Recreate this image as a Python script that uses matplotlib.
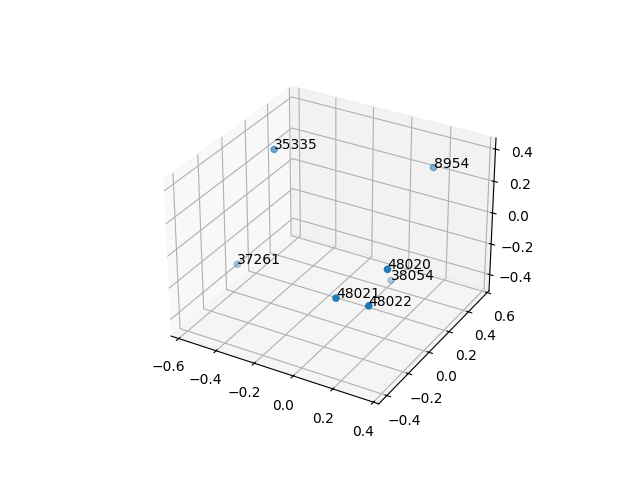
import matplotlib
matplotlib.use('Agg')
import matplotlib.pyplot as plt

# ids and coordinates
labels = ['35335', '8954', '37261', '48020', '38054', '48021', '48022']
xs = [-0.393, 0.179, -0.62, 0.3645, -0.004, 0.2015, 0.364]
ys = [0.044, 0.496, 0.068, -0.295, 0.448, -0.45, -0.458]
zs = [0.447, 0.274, -0.373, 0.176, -0.49, 0.04, 0.06]

x_limits = (-0.641, 0.426)
y_limits = (-0.474, 0.62)
z_limits = (-0.507, 0.468)

fig = plt.figure(figsize=(6.4, 4.8), dpi=100)
ax = fig.add_subplot(projection='3d')
ax.scatter(xs, ys, zs)
for x, y, z, name in zip(xs, ys, zs, labels):
    ax.text(x, y, z, name)

ax.set_xlim(x_limits)
ax.set_ylim(y_limits)
ax.set_zlim(z_limits)

plt.savefig('out.png')
plt.close()
